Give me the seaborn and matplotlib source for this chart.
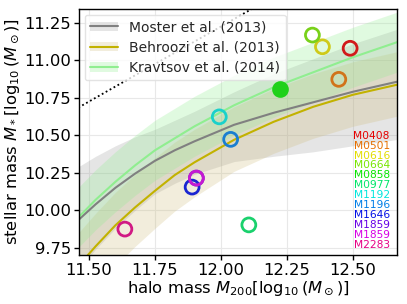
import numpy as np
import pandas as pd
import matplotlib
matplotlib.use("Agg")
import matplotlib.pyplot as plt
import seaborn as sns
from matplotlib.patches import Patch
from matplotlib.lines import Line2D

# ---------------- data ----------------
halo_grid = [11.45, 11.525, 11.6, 11.675, 11.75, 11.825, 11.9, 12.05, 12.2, 12.35, 12.5, 12.7]

moster = [9.92, 10.04, 10.15, 10.245, 10.33, 10.40, 10.46, 10.57, 10.65, 10.72, 10.79, 10.87]
moster_hi = [10.28, 10.36, 10.43, 10.49, 10.54, 10.60, 10.66, 10.79, 10.91, 11.01, 11.11, 11.225]
moster_lo = [9.58, 9.74, 9.88, 10.00, 10.11, 10.18, 10.24, 10.325, 10.36, 10.39, 10.43, 10.48]

behroozi = [9.61, 9.76, 9.90, 10.02, 10.13, 10.235, 10.32, 10.47, 10.59, 10.69, 10.77, 10.85]
behroozi_hi = [9.83, 9.98, 10.12, 10.24, 10.35, 10.455, 10.54, 10.69, 10.81, 10.91, 10.99, 11.07]
behroozi_lo = [9.31, 9.475, 9.63, 9.76, 9.88, 9.995, 10.09, 10.26, 10.38, 10.48, 10.56, 10.64]

kravtsov = [9.935, 10.07, 10.19, 10.30, 10.40, 10.48, 10.56, 10.70, 10.82, 10.92, 11.02, 11.14]
kravtsov_hi = [10.135, 10.27, 10.39, 10.50, 10.60, 10.68, 10.76, 10.90, 11.02, 11.12, 11.22, 11.34]
kravtsov_lo = [9.735, 9.87, 9.99, 10.10, 10.20, 10.28, 10.36, 10.50, 10.62, 10.72, 10.82, 10.94]

dotted_halo = [11.40, 12.20]
dotted_stellar = [10.625, 11.425]

names = ["M0408", "M0501", "M0616", "M0664", "M0858", "M0977",
         "M1192", "M1196", "M1646", "M1859", "M1859", "M2283"]
halo_mass = [12.49, 12.447, 12.385, 12.347, 12.226, 12.106,
             11.994, 12.037, 11.891, 11.907, 11.907, 11.636]
stellar_mass = [11.08, 10.873, 11.09, 11.168, 10.806, 9.903,
                10.623, 10.473, 10.155, 10.215, 10.215, 9.875]
filled = [False, False, False, False, True, False,
          False, False, False, False, False, False]

legend_labels = ["Moster et al. (2013)", "Behroozi et al. (2013)", "Kravtsov et al. (2014)"]

# ---------------- style ----------------
sns.set_theme(style="whitegrid")
plt.rcParams['font.family'] = ['DejaVu Sans']
plt.rcParams['mathtext.fontset'] = 'dejavusans'

fig = plt.figure(figsize=(4.07, 3.04), dpi=100)
ax = fig.add_axes([0.194, 0.161, 0.781, 0.809])
ax.set_facecolor("white")

c_moster = "grey"
c_behroozi = "#c2b200"
c_kravtsov = "#90ee90"

ax.fill_between(halo_grid, moster_lo, moster_hi, color=c_moster, alpha=0.2, lw=0, zorder=1)
ax.fill_between(halo_grid, behroozi_lo, behroozi_hi, color="y", alpha=0.25, lw=0, zorder=1)
ax.fill_between(halo_grid, kravtsov_lo, kravtsov_hi, color=c_kravtsov, alpha=0.27, lw=0, zorder=1)

sns.lineplot(x=halo_grid, y=moster, color=c_moster, lw=1.5, ax=ax, zorder=2)
sns.lineplot(x=halo_grid, y=behroozi, color=c_behroozi, lw=1.5, ax=ax, zorder=2)
sns.lineplot(x=halo_grid, y=kravtsov, color=c_kravtsov, lw=1.5, ax=ax, zorder=2)
sns.lineplot(x=dotted_halo, y=dotted_stellar, color="black", lw=1.3, linestyle=(0, (1, 1.5)), ax=ax, zorder=2)

cmap = plt.get_cmap("hsv")
n = len(names)
for i in range(n):
    base = np.array(cmap(i / n)[:3])
    tc = tuple(base * 0.9)
    mc = tuple(base * 0.72 + 0.1)
    sns.scatterplot(x=[halo_mass[i]], y=[stellar_mass[i]], ax=ax, s=100,
                    color=mc, edgecolor=mc, facecolor=(mc if filled[i] else "none"),
                    linewidth=2, zorder=5, legend=False)
    ax.text(0.978, 0.485 - 0.0402 * i, names[i], color=tc, fontsize=7.7,
            ha="right", va="center", transform=ax.transAxes, zorder=6)

ax.set_xlim(11.462, 12.667)
ax.set_ylim(9.702, 11.341)
ax.set_xticks([11.50, 11.75, 12.00, 12.25, 12.50])
ax.set_yticks([9.75, 10.00, 10.25, 10.50, 10.75, 11.00, 11.25])
ax.xaxis.set_major_formatter(matplotlib.ticker.FormatStrFormatter("%.2f"))
ax.yaxis.set_major_formatter(matplotlib.ticker.FormatStrFormatter("%.2f"))

ax.grid(True, color="#e8e8e8", lw=0.8)
for s in ax.spines.values():
    s.set_color("black")
    s.set_linewidth(1.0)
ax.tick_params(axis="both", which="major", labelsize=11.8, length=3.5, width=1,
               color="black", direction="out", bottom=True, left=True, pad=2, labelcolor="black")

ax.set_xlabel(r"halo mass $M_{200}[\log_{10}(M_\odot)]$", fontsize=11.8, labelpad=1, color="black")
ax.set_ylabel(r"stellar mass $M_*[\log_{10}(M_\odot)]$", fontsize=11.8, labelpad=2, color="black")

handles = [
    (Patch(facecolor=c_moster, alpha=0.2, lw=0), Line2D([], [], color=c_moster, lw=1.5)),
    (Patch(facecolor="y", alpha=0.25, lw=0), Line2D([], [], color=c_behroozi, lw=1.5)),
    (Patch(facecolor=c_kravtsov, alpha=0.27, lw=0), Line2D([], [], color=c_kravtsov, lw=1.5)),
]
leg = ax.legend(handles, legend_labels, loc="upper left", fontsize=10, frameon=True,
                borderaxespad=0.4, handlelength=2.0, labelspacing=0.45, borderpad=0.4,
                handletextpad=0.8, framealpha=0.8)
leg.get_frame().set_edgecolor("#dddddd")
leg.set_zorder(4)

fig.savefig("out.png", dpi=100)
